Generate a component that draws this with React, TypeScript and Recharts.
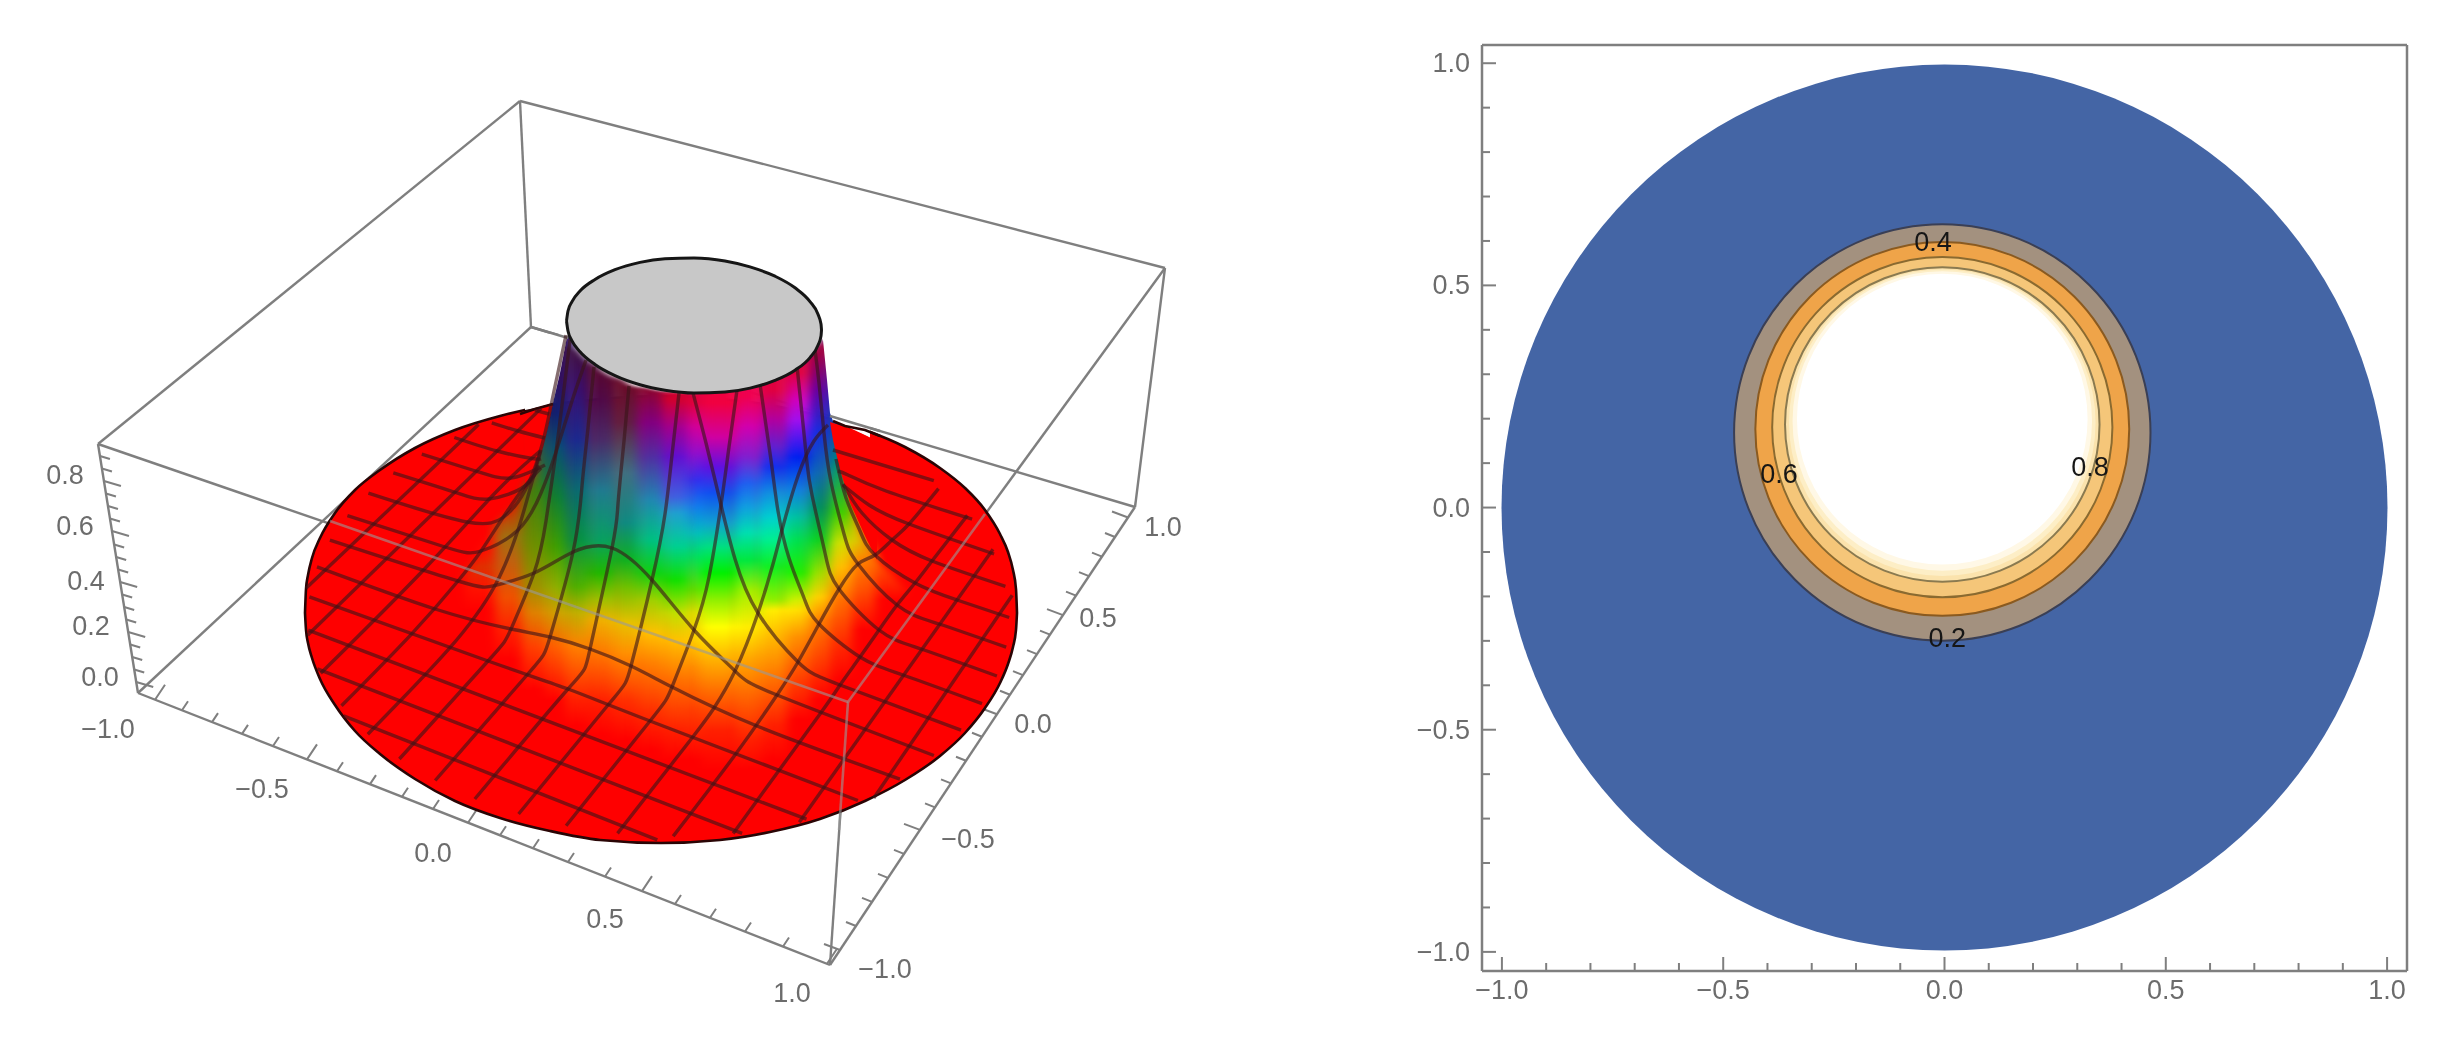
import { ComposedChart, ScatterChart, Area, Line, Scatter, XAxis, YAxis, ZAxis, LabelList } from "recharts";

// ---- left panel: picture plane values ----
const backEdges = [
  [[520, 101], [531, 327]],
  [[98, 444], [520, 101]],
  [[520, 101], [1165, 268]],
  [[531, 327], [138, 693]],
  [[531, 327], [1135, 507]],
  [[98, 444], [138, 693]],
  [[1165, 268], [1135, 507]],
  [[138, 693], [830, 965]],
  [[830, 965], [1135, 507]],
  [[98, 444], [848, 702]],
  [[1165, 268], [848, 702]],
  [[848, 702], [830, 965]],
];
const frontEdges = [
  [[330, 521], [848, 702]],
  [[985, 514], [848, 702]],
  [[848, 702], [839, 830]],
];
const edgeRepairs = [
  [[531, 327], [568, 338]],
  [[830, 416], [880, 431]],
];
const outlineRepairs = [
  [[520, 414], [535, 409], [553, 404]],
  [[833, 421], [845, 426], [865, 430], [880, 436]],
];

// x, top of disc, bottom of disc
const discRows = [
  [305, 613, 613], [306, 589, 630], [308, 575, 643], [312, 558, 658], [320, 538, 679], [335, 513, 705], [355, 490, 731],
  [380, 470, 754], [415, 448, 779], [455, 430, 801], [500, 416, 818], [550, 405, 831], [600, 399, 840], [661, 396, 843],
  [720, 399, 840], [770, 405, 832], [820, 416, 819], [865, 430, 801], [905, 447, 780], [940, 468, 756], [965, 488, 733],
  [985, 510, 708], [1000, 534, 683], [1008, 552, 664], [1013, 570, 647], [1016, 589, 630], [1017, 613, 613],
];
// x, top of cap, bottom of cap
const capRows = [
  [566.5, 321, 321], [568, 311, 331], [572, 301.6, 340.8], [580, 291, 351.7], [595, 279.5, 364.5], [615, 269.7, 375.7],
  [640, 262.4, 384.8], [665, 258.8, 390.2], [694, 258, 393], [725, 261, 392], [750, 266.9, 388.1], [775, 276.2, 380.4],
  [795, 287.8, 370.2], [810, 301.6, 357.6], [818, 314.3, 345.3], [821, 324, 336], [821.5, 330, 330],
];
// painted over the soft neck colours so that the silhouette stays sharp
const whiteWedges = [
  [[525, 334, 410], [540, 334, 407], [553, 334, 403], [560, 334, 373], [567, 334, 337]],
  [[823, 300, 340], [827, 300, 380], [830, 300, 413], [833, 300, 421], [845, 300, 427], [862, 300, 434], [870, 300, 438]],
];
const redWedges = [
  [[525, 412, 490], [535, 408, 470], [543, 406, 447], [548, 405, 427], [553, 403, 403]],
  [[830, 422, 422], [833, 423, 440], [840, 425, 470], [850, 428, 503], [867, 436, 540], [877, 441, 560]],
];

// neck colour columns: upper outline, then colour samples going down the column
const neckColumns = [
  { top: [[465, 575], [480, 550], [495, 528], [505, 515]], stops: [[550, "#ff1000"], [567, "#e03000"], [590, "#ff1000"], [610, "#ff0000"]] },
  { top: [[495, 525], [510, 510], [520, 498], [532, 478]], stops: [[505, "#d03000"], [537, "#a07010"], [560, "#c06010"], [597, "#f05000"], [630, "#ff2000"], [660, "#ff0000"]] },
  { top: [[522, 495], [535, 470], [538, 392], [555, 392]], stops: [[392, "#102070"], [470, "#307030"], [490, "#408010"], [547, "#709000"], [587, "#a09000"], [613, "#e08000"], [647, "#ff4000"], [690, "#ff0000"]] },
  { top: [[545, 337], [575, 337]], stops: [[340, "#301060"], [380, "#301060"], [413, "#102070"], [447, "#0a5070"], [497, "#108030"], [547, "#40a000"], [587, "#90b000"], [613, "#d0a000"], [647, "#ff6000"], [700, "#ff0000"]] },
  { top: [[565, 345], [580, 353], [597, 368]], stops: [[350, "#401040"], [390, "#381070"], [440, "#1a2a90"], [490, "#0a6a70"], [540, "#089040"], [587, "#50b000"], [613, "#c0b000"], [647, "#ff8000"], [700, "#ff2000"], [725, "#ff0000"]] },
  { top: [[587, 360], [600, 370], [622, 382]], stops: [[360, "#5a0828"], [400, "#500a48"], [440, "#4a2a68"], [490, "#207a90"], [540, "#08a060"], [573, "#20b800"], [600, "#a0c000"], [620, "#f0b000"], [657, "#ff7000"], [700, "#ff2000"], [735, "#ff0000"]] },
  { top: [[612, 376], [630, 385], [647, 390]], stops: [[383, "#6a0a28"], [423, "#602040"], [473, "#407080"], [523, "#108a80"], [560, "#10b020"], [587, "#70c000"], [623, "#e8c000"], [653, "#ff9000"], [700, "#ff3000"], [740, "#ff0000"]] },
  { top: [[637, 387], [672, 393]], stops: [[390, "#8a0530"], [423, "#800080"], [457, "#5030a0"], [500, "#2088b0"], [540, "#00c080"], [573, "#10d010"], [600, "#a0d000"], [633, "#ffc000"], [663, "#ff8000"], [710, "#ff3000"], [750, "#ff0000"]] },
  { top: [[662, 392], [697, 393]], stops: [[400, "#d00030"], [427, "#a00090"], [457, "#6010d0"], [497, "#4060e0"], [513, "#20a0d0"], [547, "#00d090"], [580, "#10e000"], [613, "#c0e000"], [640, "#ffc000"], [680, "#ff7000"], [730, "#ff2000"], [760, "#ff0000"]] },
  { top: [[687, 393], [722, 390]], stops: [[403, "#e00040"], [427, "#d000a0"], [453, "#9010d0"], [480, "#3030f0"], [507, "#1080f0"], [533, "#00c0c0"], [557, "#00e060"], [590, "#60e000"], [613, "#e0e000"], [640, "#ffd000"], [667, "#ff9000"], [710, "#ff4000"], [760, "#ff0000"]] },
  { top: [[865, 536], [877, 560], [890, 572], [905, 590]], stops: [[565, "#ff5000"], [600, "#ff0000"]] },
  { top: [[842, 476], [850, 503], [867, 540], [875, 556]], stops: [[540, "#e0c000"], [560, "#ff8000"], [590, "#ff5000"], [630, "#ff0000"]] },
  { top: [[820, 340], [852, 340]], stops: [[345, "#701060"], [400, "#1030b0"], [440, "#106090"], [457, "#008080"], [473, "#10a060"], [513, "#40d000"], [543, "#d0e000"], [567, "#ffc000"], [600, "#ff7000"], [640, "#ff3000"], [680, "#ff0000"]] },
  { top: [[800, 360], [813, 347], [830, 340]], stops: [[353, "#a00040"], [390, "#6000a0"], [433, "#1030e0"], [473, "#106ab0"], [507, "#009060"], [540, "#10d020"], [573, "#a0e000"], [597, "#ffd000"], [620, "#ff8000"], [660, "#ff4000"], [700, "#ff0000"]] },
  { top: [[777, 374], [797, 363], [810, 350]], stops: [[373, "#e00040"], [400, "#d000c0"], [420, "#a010f0"], [457, "#0020f0"], [490, "#1080e0"], [517, "#00c0a0"], [540, "#00e050"], [573, "#20f000"], [600, "#d0f000"], [610, "#ffe000"], [637, "#ff9000"], [680, "#ff4000"], [720, "#ff0000"]] },
  { top: [[752, 384], [787, 369]], stops: [[390, "#e00040"], [420, "#b000a0"], [447, "#6020d0"], [467, "#1030f0"], [493, "#1090e0"], [517, "#00d0d0"], [540, "#00f090"], [567, "#10f020"], [600, "#90f000"], [610, "#ffee00"], [633, "#ffc000"], [680, "#ff7000"], [725, "#ff2000"], [760, "#ff0000"]] },
  { top: [[727, 389], [762, 380]], stops: [[397, "#f00050"], [427, "#d000b0"], [457, "#8020d0"], [483, "#2060f0"], [507, "#10a0e0"], [533, "#00e0b0"], [560, "#00e840"], [590, "#a0f000"], [627, "#ffee00"], [657, "#ffaa00"], [700, "#ff6000"], [740, "#ff2000"], [770, "#ff0000"]] },
  { top: [[702, 392], [737, 386]], stops: [[403, "#f00040"], [437, "#d000a0"], [467, "#6010e0"], [493, "#1050f0"], [523, "#10a0d0"], [547, "#00e080"], [573, "#00f000"], [600, "#90f000"], [627, "#ffff00"], [653, "#ffc000"], [690, "#ff7000"], [730, "#ff2000"], [770, "#ff0000"]] },
];

// mesh lines running across the surface, one family per axis
const meshFamilyY = [
  [[343.6, 715.8], [657.3, 839.9]],
  [[317.3, 668.9], [742.1, 833.4]],
  [[308.2, 630.2], [806.5, 819.2]],
  [[309.4, 596.9], [488, 661], [568, 689], [650, 721], [857.9, 800.5]],
  [[317, 566.9], [435, 609], [511, 629], [550, 637], [590, 649], [631, 666], [672, 687], [757, 726], [899.9, 779.1]],
  [[329.9, 540.1], [458, 581], [495, 585.5], [534, 573], [573, 552], [612, 548], [652, 580], [694, 630], [735, 671], [777, 695], [933.9, 755.5]],
  [[347.4, 515.6], [445, 547], [481, 551], [518, 530], [541, 493], [556, 452], [572, 401], [586, 360]],
  [[693, 393], [706, 443], [721, 505], [735, 559], [758, 613], [798, 662], [840, 685], [961, 730.1]],
  [[368.4, 493.2], [467, 522], [503, 517.5], [518, 502], [532.5, 474], [544.6, 435], [554, 391], [566, 335]],
  [[760, 384], [771, 460], [778, 511], [789, 558], [804, 598], [819, 624], [860, 657], [903, 675], [982, 703.7]],
  [[393.3, 472.9], [454, 492], [489, 499], [525, 486], [538, 465]],
  [[797, 366], [803, 424], [807, 463], [812, 495], [825, 553], [839, 589], [879, 630], [921, 649], [996.9, 676]],
  [[421.8, 454.2], [475.5, 471], [511, 478], [545, 465]],
  [[815, 350], [819, 383], [824, 433], [831, 482], [844, 534], [858, 564], [897, 605], [939, 624], [1006.2, 647.2]],
  [[454.3, 437.5], [497, 451], [532, 458.5], [541, 459]],
  [[836, 459], [846, 498], [860, 531], [875, 555], [915, 583], [957, 600], [1009.2, 617.5]],
  [[491.8, 422.9], [518, 431], [545, 438]],
  [[843, 484], [862, 513], [892, 540], [932, 561], [1005.4, 586.3]],
  [[535, 410.4], [549, 414]],
  [[843, 485], [869, 505], [909, 524], [994.1, 554]],
  [[838, 471], [848, 475], [886, 491], [972.1, 519.2]],
  [[833, 450], [933.8, 480.7]],
];
const meshFamilyX = [
  [[306, 588.2], [478.6, 424.6]],
  [[307.6, 635.2], [541.1, 408.4]],
  [[320.7, 673.3], [421.6, 572], [497, 491], [540, 451]],
  [[341.5, 705.8], [411, 634.6], [458, 581], [481, 551], [503, 517.5], [525, 486], [541, 468]],
  [[367.8, 734.2], [449.1, 648.7], [495, 585.5], [518, 530], [531, 485.5], [541, 450]],
  [[399.4, 759], [488, 661], [511, 629], [534, 573], [546, 521], [556, 452], [563, 397], [570, 340]],
  [[435.2, 780.5], [527, 675], [550, 637], [573, 552], [582, 486], [588, 428], [594, 367]],
  [[474.8, 799], [568, 689], [590, 649], [612, 548], [618, 504], [624, 441], [629, 386]],
  [[518.6, 814], [608, 705], [631, 666], [652, 580], [665, 514], [672, 455], [679, 393]],
  [[566.1, 825.8], [650, 721], [672, 687], [694, 630], [709, 577], [721, 505], [729, 447], [737, 390]],
  [[617.5, 833.4], [692, 738], [714, 708], [735, 671], [758, 613], [773, 564], [782, 530], [798, 476], [814, 441], [828, 425]],
  [[673.2, 836.2], [735, 755], [777, 695], [798, 662], [819, 624], [839, 589], [858, 564], [875, 555], [892, 540], [909, 524], [938.5, 488.6]],
  [[733.2, 833.4], [820, 714], [840, 685], [860, 657], [879, 630], [897, 605], [915, 583], [932, 561], [967.4, 515.4]],
  [[799.3, 822.2], [993, 549.3]],
  [[873.8, 798], [1012.2, 595.2]],
];

const xAxisTickMarks = [155, 182, 212, 242, 273, 307, 337, 370, 402, 433, 468, 500, 533, 568, 605, 642, 675, 710, 745, 783, 827];
const xAxisMajor = [155, 307, 468, 642, 827];
const yAxisTickMarks = [840, 856, 872, 888, 904, 920, 935, 951, 966, 982, 997, 1010, 1023, 1037, 1050, 1063, 1076, 1089, 1102, 1115, 1128];
const yAxisMajor = [840, 920, 997, 1063, 1128];
const zAxisTickMarks = [682, 669.5, 657, 644.5, 632, 619.5, 607, 594.5, 582, 569.5, 557, 544.5, 531, 518.5, 506, 493.5, 481, 468.5, 456];
const zAxisMajor = [682, 632, 582, 531, 481];

const plotLabels3d = [
  { x: 65, y: 474, text: "0.8" }, { x: 75, y: 525, text: "0.6" }, { x: 86, y: 580, text: "0.4" }, { x: 91, y: 625, text: "0.2" }, { x: 100, y: 676, text: "0.0" },
  { x: 108, y: 728, text: "−1.0" }, { x: 262, y: 788, text: "−0.5" }, { x: 433, y: 852, text: "0.0" }, { x: 605, y: 918, text: "0.5" }, { x: 792, y: 992, text: "1.0" },
  { x: 885, y: 968, text: "−1.0" }, { x: 968, y: 838, text: "−0.5" }, { x: 1033, y: 723, text: "0.0" }, { x: 1098, y: 617, text: "0.5" }, { x: 1163, y: 526, text: "1.0" },
];

// ---- right panel: contour bands, outermost first ----
const bandCenterX = [0, -0.005, -0.005, -0.005, -0.005, -0.005, -0.005, -0.005];
const bandCenterY = [0, 0.169, 0.177, 0.181, 0.187, 0.191, 0.195, 0.199];
const bandRadius = [1, 0.47, 0.422, 0.384, 0.355, 0.346, 0.338, 0.328];
const bandColors = ["#4465a5", "#a3917f", "#efa449", "#f5c679", "#fbe3ad", "#fdeec6", "#fff8e6", "#ffffff"];
const bandOutlines = ["none", "#3a3f55", "#8a5a20", "#8a6a30", "#8a7a50", "none", "none", "none"];

const contourLabels = [
  { x: -0.026, y: 0.599, z: 0, text: "0.4" },
  { x: 0.006, y: -0.293, z: 0, text: "0.2" },
  { x: -0.374, y: 0.0775, z: 0, text: "0.6" },
  { x: 0.329, y: 0.093, z: 0, text: "0.8" },
];
const axisTicks = [-1, -0.9, -0.8, -0.7, -0.6, -0.5, -0.4, -0.3, -0.2, -0.1, 0, 0.1, 0.2, 0.3, 0.4, 0.5, 0.6, 0.7, 0.8, 0.9, 1];
const labelledTicks = [-1, -0.5, 0, 0.5, 1];

const GRAY = "#7f7f7f";
const LABEL = "#6c6c6c";
const FONT = "'Liberation Sans', Arial, sans-serif";

const pts = (line: number[][]) => line.map(([x, y]) => ({ x, y }));
const bandRows = (rows: number[][]) => rows.map(([x, top, bottom]) => ({ x, band: [bottom, top] }));

// tick marks become one broken line, a null y leaves a gap
const tickLine = (base: number[][], major: (p: number[]) => boolean, minorDir: number[], majorDir: number[]) =>
  base.flatMap((p) => {
    const d = major(p) ? majorDir : minorDir;
    return [{ x: p[0], y: p[1] }, { x: p[0] + d[0], y: p[1] + d[1] }, { x: p[0], y: null }];
  });
const xTickLine = tickLine(xAxisTickMarks.map((x) => [x, 693 + 0.393 * (x - 138)]), (p) => xAxisMajor.includes(p[0]), [6, -9], [10, -15]);
const yTickLine = tickLine(yAxisTickMarks.map((x) => [x, 965 - 1.5016 * (x - 830)]), (p) => yAxisMajor.includes(p[0]), [-10, -4], [-16, -6]);
const zTickLine = tickLine(zAxisTickMarks.map((y) => [138 - (693 - y) * 0.1606, y]), (p) => zAxisMajor.includes(p[1]), [10, 3], [17, 5]);

const fmt = (v: number) => (v < 0 ? "−" : "") + Math.abs(v).toFixed(1);

const FrameTick = ({ x, y, payload, side }: any) => {
  const major = labelledTicks.includes(payload.value);
  const len = major ? 14 : 8;
  const end = {
    bottom: [x, y - len],
    top: [x, y + len],
    left: [x + len, y],
    right: [x - len, y],
  }[side as string] as number[];
  return (
    <g>
      <line x1={x} y1={y} x2={end[0]} y2={end[1]} stroke={GRAY} strokeWidth={2} />
      {major && side === "bottom" && (
        <text x={x} y={y + 28} textAnchor="middle" fontSize={27} fontFamily={FONT} fill={LABEL}>{fmt(payload.value)}</text>
      )}
      {major && side === "left" && (
        <text x={x - 12} y={y + 9} textAnchor="end" fontSize={27} fontFamily={FONT} fill={LABEL}>{fmt(payload.value)}</text>
      )}
    </g>
  );
};

const SurfacePlot = () => (
  <ComposedChart width={1300} height={1038} margin={{ top: 0, right: 0, bottom: 0, left: 0 }}>
    <defs>
      <filter id="soft" x="-60%" y="-5%" width="220%" height="110%" colorInterpolationFilters="sRGB">
        <feGaussianBlur stdDeviation="5.5 1" />
      </filter>
      {neckColumns.map((col, i) => {
        const minTop = Math.min(...col.top.map((p) => p[1]));
        const bottom = col.stops[col.stops.length - 1][0] as number;
        return (
          <linearGradient key={i} id={`neck-${i}`} x1="0" y1="0" x2="0" y2="1">
            {col.stops.map(([y, c], j) => (
              <stop key={j} offset={Math.max(0, ((y as number) - minTop) / (bottom - minTop))} stopColor={c as string} />
            ))}
          </linearGradient>
        );
      })}
    </defs>
    <XAxis hide type="number" dataKey="x" domain={[0, 1300]} />
    <YAxis hide type="number" domain={[0, 1038]} reversed />

    {backEdges.map((e, i) => (
      <Line key={`back-${i}`} data={pts(e)} dataKey="y" zIndex={10} stroke={GRAY} strokeWidth={2.4} dot={false} activeDot={false} isAnimationActive={false} />
    ))}
    <Line data={xTickLine} dataKey="y" zIndex={10} stroke={GRAY} strokeWidth={2} dot={false} activeDot={false} isAnimationActive={false} />
    <Line data={yTickLine} dataKey="y" zIndex={10} stroke={GRAY} strokeWidth={2} dot={false} activeDot={false} isAnimationActive={false} />
    <Line data={zTickLine} dataKey="y" zIndex={10} stroke={GRAY} strokeWidth={2} dot={false} activeDot={false} isAnimationActive={false} />

    <Area data={bandRows(discRows)} dataKey="band" type="monotone" zIndex={20} fill="#fe0000" fillOpacity={1} stroke="#2a0505" strokeWidth={2.6} dot={false} activeDot={false} isAnimationActive={false} />

    {neckColumns.map((col, i) => {
      const bottom = col.stops[col.stops.length - 1][0];
      return (
        <Area
          key={`neck-${i}`}
          data={col.top.map(([x, y]) => ({ x, band: [bottom, y] }))}
          dataKey="band"
          type="linear"
          zIndex={30 + i}
          fill={`url(#neck-${i})`}
          fillOpacity={1}
          stroke="none"
          filter="url(#soft)"
          dot={false}
          activeDot={false}
          isAnimationActive={false}
        />
      );
    })}

    {whiteWedges.map((w, i) => (
      <Area key={`white-${i}`} data={bandRows(w)} dataKey="band" type="linear" zIndex={55} fill="#ffffff" fillOpacity={1} stroke="none" dot={false} activeDot={false} isAnimationActive={false} />
    ))}
    {redWedges.map((w, i) => (
      <Area key={`red-${i}`} data={bandRows(w)} dataKey="band" type="linear" zIndex={55} fill="#fe0000" fillOpacity={1} stroke="none" dot={false} activeDot={false} isAnimationActive={false} />
    ))}
    {edgeRepairs.map((e, i) => (
      <Line key={`repair-${i}`} data={pts(e)} dataKey="y" zIndex={56} stroke={GRAY} strokeWidth={2.4} dot={false} activeDot={false} isAnimationActive={false} />
    ))}
    {outlineRepairs.map((e, i) => (
      <Line key={`outline-${i}`} data={pts(e)} dataKey="y" zIndex={57} stroke="#2a0505" strokeWidth={2.6} dot={false} activeDot={false} isAnimationActive={false} />
    ))}

    {[...meshFamilyY, ...meshFamilyX].map((line, i) => (
      <Line key={`mesh-${i}`} data={pts(line)} dataKey="y" type="natural" zIndex={60} stroke="#3a1518" strokeOpacity={0.62} strokeWidth={3.4} dot={false} activeDot={false} isAnimationActive={false} />
    ))}

    <Area data={bandRows(capRows)} dataKey="band" type="monotone" zIndex={70} fill="#c8c8c8" fillOpacity={1} stroke="#161616" strokeWidth={3} dot={false} activeDot={false} isAnimationActive={false} />

    {frontEdges.map((e, i) => (
      <Line key={`front-${i}`} data={pts(e)} dataKey="y" zIndex={80} stroke="#9a9a9a" strokeOpacity={0.6} strokeWidth={2.6} dot={false} activeDot={false} isAnimationActive={false} />
    ))}

    <Line data={plotLabels3d} dataKey="y" zIndex={90} stroke="none" dot={false} activeDot={false} isAnimationActive={false}>
      <LabelList dataKey="text" position="center" fontSize={27} fontFamily={FONT} fill={LABEL} />
    </Line>
  </ComposedChart>
);

const ContourPlot = () => (
  <ScatterChart width={1049} height={1038} margin={{ top: 0, right: 0, bottom: 0, left: 0 }}>
    <XAxis
      type="number"
      dataKey="x"
      orientation="bottom"
      height={67}
      domain={[-1.045, 1.045]}
      ticks={axisTicks}
      interval={0}
      tickSize={0}
      tickMargin={0}
      tickLine={false}
      axisLine={{ stroke: GRAY, strokeWidth: 2.5 }}
      tick={(p: any) => <FrameTick {...p} side="bottom" />}
    />
    <XAxis
      xAxisId="top"
      type="number"
      dataKey="x"
      orientation="top"
      height={45}
      domain={[-1.045, 1.045]}
      ticks={axisTicks}
      interval={0}
      tickSize={0}
      tickMargin={0}
      tickLine={false}
      axisLine={{ stroke: GRAY, strokeWidth: 2.5 }}
      tick={(p: any) => <FrameTick {...p} side="top" />}
    />
    <YAxis
      type="number"
      dataKey="y"
      orientation="left"
      width={82}
      domain={[-1.043, 1.041]}
      ticks={axisTicks}
      interval={0}
      tickSize={0}
      tickMargin={0}
      tickLine={false}
      axisLine={{ stroke: GRAY, strokeWidth: 2.5 }}
      tick={(p: any) => <FrameTick {...p} side="left" />}
    />
    <YAxis
      yAxisId="right"
      type="number"
      dataKey="y"
      orientation="right"
      width={42}
      domain={[-1.043, 1.041]}
      ticks={axisTicks}
      interval={0}
      tickSize={0}
      tickMargin={0}
      tickLine={false}
      axisLine={{ stroke: GRAY, strokeWidth: 2.5 }}
      tick={(p: any) => <FrameTick {...p} side="right" />}
    />
    {/* bubble area is radius squared in axis units */}
    <ZAxis type="number" dataKey="z" domain={[0, 1]} range={[0, Math.PI * 443 * 443]} />
    {bandRadius.map((r, i) => (
      <Scatter
        key={i}
        data={[{ x: bandCenterX[i], y: bandCenterY[i], z: r * r }]}
        fill={bandColors[i]}
        stroke={bandOutlines[i]}
        strokeWidth={2}
        isAnimationActive={false}
      />
    ))}
    <Scatter data={contourLabels} fill="none" isAnimationActive={false}>
      <LabelList dataKey="text" position="center" fontSize={27} fontFamily={FONT} fill="#161616" />
    </Scatter>
  </ScatterChart>
);

export default function App() {
  return (
    <div style={{ position: "absolute", left: 0, top: 0, width: 2449, height: 1038, background: "#fff", overflow: "hidden", filter: "blur(0.7px)" }}>
      <div style={{ position: "absolute", left: 0, top: 0 }}>
        <SurfacePlot />
      </div>
      <div style={{ position: "absolute", left: 1400, top: 0 }}>
        <ContourPlot />
      </div>
    </div>
  );
}
